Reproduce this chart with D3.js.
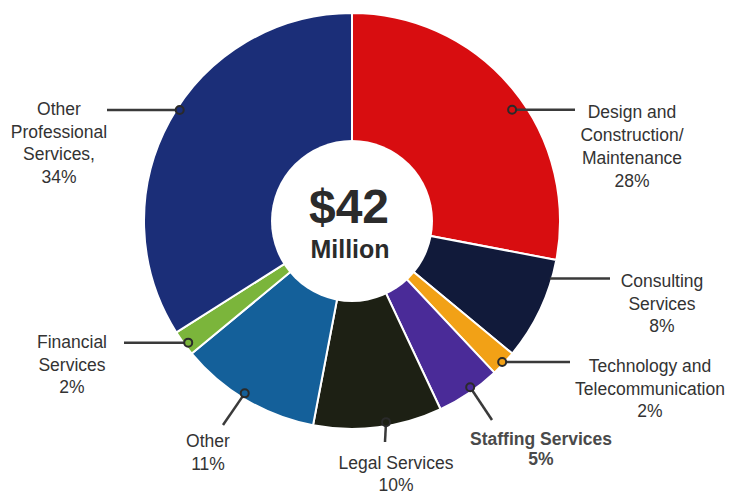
<!DOCTYPE html>
<html>
<head>
<meta charset="utf-8">
<script src="https://cdn.jsdelivr.net/npm/d3@7/dist/d3.min.js"></script>
<style>
  html, body { margin: 0; padding: 0; background: #ffffff; }
  svg { display: block; }
  text { font-family: "Liberation Sans", Arial, sans-serif; fill: #333333; }
</style>
</head>
<body>
<svg id="chart" width="731" height="496"></svg>
<script>
// Spending by category (share of $42 million), clockwise from 12 o'clock
const categories = [
  "Design and Construction/Maintenance",
  "Consulting Services",
  "Technology and Telecommunication",
  "Staffing Services",
  "Legal Services",
  "Other",
  "Financial Services",
  "Other Professional Services"
];
const shares = [28, 8, 2, 5, 10, 11, 2, 34];
const labelLines = [
  ["Design and", "Construction/", "Maintenance", "28%"],
  ["Consulting", "Services", "8%"],
  ["Technology and", "Telecommunication", "2%"],
  ["Staffing Services", "5%"],
  ["Legal Services", "10%"],
  ["Other", "11%"],
  ["Financial", "Services", "2%"],
  ["Other", "Professional", "Services,", "34%"]
];
const sliceColors = ["#d80d10", "#111a3a", "#f2a116", "#4a2b98", "#1d2014", "#14609a", "#7bb53b", "#1b2e78"];
const totalLabel = ["$42", "Million"];

const svg = d3.select("#chart");
const cx = 352, cy = 221, outerR = 208, innerR = 81;

const pie = d3.pie().sort(null).value(d => d).startAngle(0).endAngle(2 * Math.PI);
const arcs = pie(shares);
const arcGen = d3.arc().innerRadius(0).outerRadius(outerR);
const color = d3.scaleOrdinal().domain(categories).range(sliceColors);

const g = svg.append("g").attr("transform", `translate(${cx},${cy})`);

g.selectAll("path.slice")
  .data(arcs)
  .join("path")
  .attr("class", "slice")
  .attr("d", arcGen)
  .attr("fill", (d, i) => color(categories[i]))
  .attr("stroke", "#ffffff")
  .attr("stroke-width", 2)
  .attr("stroke-linejoin", "round");

// white hub
g.append("circle").attr("r", innerR).attr("fill", "#ffffff");

g.append("text")
  .attr("x", -3).attr("y", 2)
  .attr("text-anchor", "middle")
  .style("font-weight", "bold").style("font-size", "48px").style("fill", "#2b2b2b")
  .text(totalLabel[0]);
g.append("text")
  .attr("x", -2).attr("y", 37)
  .attr("text-anchor", "middle")
  .style("font-weight", "bold").style("font-size", "25px").style("fill", "#2b2b2b")
  .text(totalLabel[1]);

// Label layout: marker angle offset (deg) / radius, leader end, text anchor point
const layout = [
  { dA: 4.8,  mr: 195, end: [575, null], tx: 632, ty: 118, lh: 23, dot: true },
  { dA: -9,   mr: 206, end: [610, null], tx: 662, ty: 287, lh: 22.5, dot: false },
  { dA: 0,    mr: 206, end: [570, null], tx: 650, ty: 372, lh: 22.5, dot: true },
  { dA: -1.2, mr: 204, end: [492, 420],  tx: 541, ty: 445, lh: 20, dot: true, bold: true },
  { dA: -2.4, mr: 204, end: [385, 442],  tx: 396, ty: 469, lh: 22, dot: true },
  { dA: 1.3,  mr: 203, end: [223, 425],  tx: 208, ty: 447, lh: 23, dot: true },
  { dA: -0.6, mr: 204, end: [124, null], tx: 72,  ty: 348, lh: 22.5, dot: true },
  { dA: 4,    mr: 205, end: [107, null], tx: 59,  ty: 115, lh: 22.5, dot: true }
];

const labels = svg.append("g");
arcs.forEach((a, i) => {
  const L = layout[i];
  const ang = (a.startAngle + a.endAngle) / 2 + L.dA * Math.PI / 180;
  const mx = cx + L.mr * Math.sin(ang);
  const my = cy - L.mr * Math.cos(ang);
  const ex = L.end[0];
  const ey = L.end[1] === null ? my : L.end[1];

  labels.append("line")
    .attr("x1", mx).attr("y1", my).attr("x2", ex).attr("y2", ey)
    .attr("stroke", "#3a3a3a").attr("stroke-width", 2.5);

  if (L.dot) {
    labels.append("circle")
      .attr("cx", mx).attr("cy", my).attr("r", 4)
      .attr("fill", color(categories[i]))
      .attr("stroke", "#2a2a2a").attr("stroke-width", 2);
  }

  const t = labels.append("text")
    .attr("text-anchor", "middle")
    .style("font-size", "17.5px")
    .style("font-weight", L.bold ? "bold" : "normal")
    .style("fill", L.bold ? "#4a4a4a" : "#333333");
  labelLines[i].forEach((line, k) => {
    t.append("tspan").attr("x", L.tx).attr("y", L.ty + k * L.lh).text(line);
  });
});
</script>
</body>
</html>
